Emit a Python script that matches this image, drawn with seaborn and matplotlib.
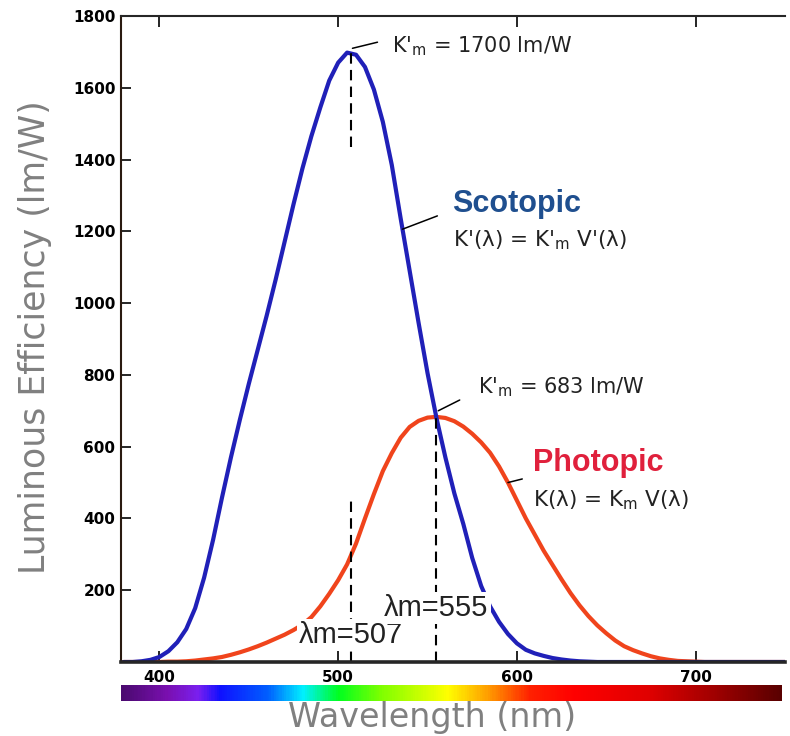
import numpy as np
import pandas as pd
import matplotlib
matplotlib.use("Agg")
import matplotlib.pyplot as plt
import seaborn as sns
from matplotlib.colors import LinearSegmentedColormap

# ---------------- data ----------------
wavelength_nm = list(range(380, 755, 5))

scotopic_lm_per_w = [
    0, 0, 2, 6, 14, 30, 55, 92, 150, 235,               # 380-425
    340, 458, 570, 675, 775, 870, 965, 1065, 1170, 1275,  # 430-475
    1375, 1465, 1545, 1620, 1670, 1698, 1692, 1658, 1595, 1505,  # 480-525
    1385, 1235, 1090, 945, 805, 680, 570, 470, 385, 290,  # 530-575
    212, 155, 112, 78, 52, 34, 24, 17, 11, 7,           # 580-625
    4, 2, 1, 0, 0, 0, 0, 0, 0, 0,                       # 630-675
    0, 0, 0, 0, 0, 0, 0, 0, 0, 0,                       # 680-725
    0, 0, 0, 0, 0,                                      # 730-750
]

photopic_lm_per_w = [
    0, 0, 0, 0, 0, 1, 1, 2, 4, 7,                       # 380-425
    10, 14, 20, 27, 35, 44, 54, 65, 76, 89,             # 430-475
    104, 125, 155, 190, 228, 272, 330, 400, 468, 532,   # 480-525
    582, 625, 655, 672, 681, 683, 680, 671, 656, 636,   # 530-575
    612, 583, 545, 500, 450, 400, 355, 310, 270, 230,   # 580-625
    192, 158, 128, 102, 80, 60, 44, 33, 24, 16,         # 630-675
    10, 6, 3, 2, 1, 0, 0, 0, 0, 0,                      # 680-725
    0, 0, 0, 0, 0,                                      # 730-750
]

curve_names = ["Photopic", "Scotopic"]
scotopic_peak_nm, scotopic_peak_value = 507, 1700
photopic_peak_nm, photopic_peak_value = 555, 683

x_ticks = [400, 500, 600, 700]
y_ticks = [200, 400, 600, 800, 1000, 1200, 1400, 1600, 1800]

spectrum_stops = [0.0, 0.068, 0.115, 0.148, 0.221, 0.274, 0.328, 0.394,
                  0.494, 0.554, 0.62, 0.687, 0.80, 0.90, 1.0]
spectrum_colors = ["#4b0a70", "#7a10b0", "#7a20f0", "#1010ff", "#0060ff",
                   "#00f0ff", "#00ff20", "#80ff00", "#ffff00", "#ffa000",
                   "#ff2000", "#ff0000", "#e00000", "#a00000", "#5a0000"]

# ---------------- styling ----------------
sns.set_style("ticks")
plt.rcParams["font.family"] = ["DejaVu Sans"]
plt.rcParams["mathtext.fontset"] = "dejavusans"
plt.rcParams["mathtext.default"] = "regular"

BLUE = "#2020b8"
RED = "#f0441c"
LABEL_BLUE = "#1f4f8f"
LABEL_RED = "#e0203c"
GRAY = "#808080"
TXT = "#222222"
BIG = "Liberation Sans"

W, H = 790, 736
fig = plt.figure(figsize=(W / 100, H / 100), dpi=100)
ax = fig.add_axes([121 / W, 1 - 662 / H, 664 / W, 646 / H])

df = pd.DataFrame({
    "wavelength": wavelength_nm,
    "Scotopic": scotopic_lm_per_w,
    "Photopic": photopic_lm_per_w,
})
long = df.melt(id_vars="wavelength", var_name="curve", value_name="efficiency")

sns.lineplot(data=long, x="wavelength", y="efficiency", hue="curve",
             hue_order=curve_names, palette={"Scotopic": BLUE, "Photopic": RED},
             linewidth=3.0, legend=False, estimator=None, ax=ax)
for ln in ax.get_lines():
    ln.set_solid_joinstyle("round")

ax.set_xlim(378.5, 750)
ax.set_ylim(0, 1800)
ax.set_xticks(x_ticks)
ax.set_yticks(y_ticks)
ax.set_xticklabels([str(v) for v in x_ticks])
ax.set_yticklabels([str(v) for v in y_ticks])
ax.tick_params(axis="y", direction="in", length=7, width=1.2, pad=4,
               labelsize=11, colors="black")
ax.tick_params(axis="x", direction="in", length=8, width=1.2, pad=6,
               labelsize=11, top=True, labeltop=False, colors="black")
for lbl in ax.get_xticklabels() + ax.get_yticklabels():
    lbl.set_fontweight("bold")

ax.spines["right"].set_visible(False)
ax.spines["left"].set_linewidth(1.5)
ax.spines["left"].set_color("#2a1a10")
ax.spines["top"].set_linewidth(1.5)
ax.spines["bottom"].set_linewidth(2.6)
ax.spines["bottom"].set_zorder(4)

ax.set_xlabel("Wavelength (nm)", fontsize=24, color=GRAY)
ax.xaxis.set_label_coords((432 - 121) / 664, (662 - 718) / 646)
ax.xaxis.label.set_va("center")
ax.set_ylabel("Luminous Efficiency (lm/W)", fontsize=25, color=GRAY)
ax.yaxis.set_label_coords((35 - 121) / 664, (662 - 337) / 646)
ax.yaxis.label.set_va("center")

# dashed peak markers
dash_kw = dict(colors="black", linestyles=(0, (5, 3)), linewidth=1.5, zorder=2.5)
ax.vlines(scotopic_peak_nm, 1435, scotopic_peak_value, **dash_kw)
ax.vlines(scotopic_peak_nm, 0, 450, **dash_kw)
ax.vlines(photopic_peak_nm, 0, photopic_peak_value, **dash_kw)

# annotations
lead = dict(arrowstyle="-", lw=1.1, color="black", shrinkA=0, shrinkB=0)
ax.annotate("", xy=(scotopic_peak_nm + 1, scotopic_peak_value + 10),
            xytext=(522, 1727), arrowprops=lead)
ax.text(530, 1716, "K'$_m$ = 1700 lm/W", fontsize=15,
        va="center", ha="left", color=TXT)

sx = 536
ax.annotate("", xy=(sx, np.interp(sx, wavelength_nm, scotopic_lm_per_w)),
            xytext=(555.5, 1243), arrowprops=lead)
ax.text(564, 1276, "Scotopic", family=BIG, fontsize=22, fontweight="bold",
        color=LABEL_BLUE, va="center", ha="left")
ax.text(564, 1176, "K'(λ) = K'$_m$ V'(λ)", fontsize=15.5,
        va="center", ha="left", color=TXT)

ax.annotate("", xy=(photopic_peak_nm + 1, photopic_peak_value + 17),
            xytext=(568, 730), arrowprops=lead)
ax.text(578, 766, "K'$_m$ = 683 lm/W", fontsize=15,
        va="center", ha="left", color=TXT)

px = 595
ax.annotate("", xy=(px, np.interp(px, wavelength_nm, photopic_lm_per_w)),
            xytext=(603, 510), arrowprops=lead)
ax.text(609, 554, "Photopic", family=BIG, fontsize=22, fontweight="bold",
        color=LABEL_RED, va="center", ha="left")
ax.text(609, 451, "K(λ) = K$_m$ V(λ)", fontsize=15.5,
        va="center", ha="left", color=TXT)

box = dict(facecolor="white", edgecolor="none", pad=1.5)
ax.text(scotopic_peak_nm, 75, "λm=507", family=BIG, fontsize=21,
        ha="center", va="center", color=TXT, bbox=box, zorder=5)
ax.text(photopic_peak_nm, 150, "λm=555", family=BIG, fontsize=21,
        ha="center", va="center", color=TXT, bbox=box, zorder=5)

# spectrum bar
cax = fig.add_axes([121 / W, 1 - 701 / H, 661 / W, 16 / H])
cmap = LinearSegmentedColormap.from_list("spectrum",
                                         list(zip(spectrum_stops, spectrum_colors)))
cax.imshow(np.linspace(0, 1, 600)[None, :], aspect="auto", cmap=cmap,
           extent=[0, 1, 0, 1])
cax.axis("off")

fig.savefig("out.png", dpi=100, facecolor="white")
